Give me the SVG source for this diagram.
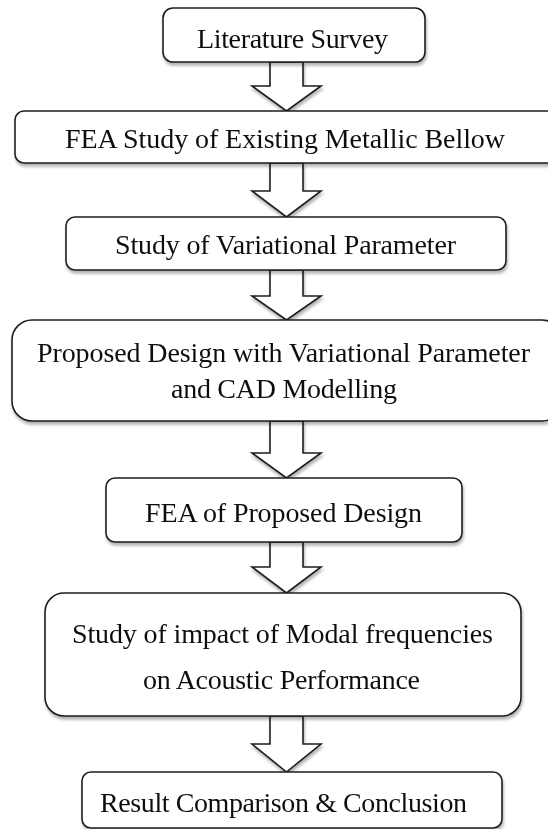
<svg xmlns="http://www.w3.org/2000/svg" width="548" height="829" viewBox="0 0 548 829">
  <defs>
    <filter id="sh" x="-10%" y="-20%" width="120%" height="150%">
      <feGaussianBlur in="SourceAlpha" stdDeviation="1.6" result="b"/>
      <feOffset in="b" dx="1" dy="3" result="o"/>
      <feComponentTransfer in="o" result="s"><feFuncA type="linear" slope="0.3"/></feComponentTransfer>
      <feMerge><feMergeNode in="s"/><feMergeNode in="SourceGraphic"/></feMerge>
    </filter>
  </defs>
  <style>
    .box { fill: #ffffff; stroke: #1e1e1e; stroke-width: 1.6; }
    .arr { fill: #ffffff; stroke: #1e1e1e; stroke-width: 1.6; stroke-linejoin: miter; }
    .t { font-family: "Liberation Serif", "Times New Roman", serif; font-size: 28px; fill: #111111; text-anchor: middle; }
  </style>
  <rect width="548" height="829" fill="#ffffff"/>

  <g id="connectors" filter="url(#sh)">
    <polygon class="arr" points="270,62 303,62 303,86 321,86 286.5,111 252,86 270,86"/>
    <polygon class="arr" points="270,163 303,163 303,191 321,191 286.5,217 252,191 270,191"/>
    <polygon class="arr" points="270,270 303,270 303,296 321,296 286.5,320 252,296 270,296"/>
    <polygon class="arr" points="270,421 303,421 303,453 321,453 286.5,478 252,453 270,453"/>
    <polygon class="arr" points="270,542 303,542 303,567 321,567 286.5,593 252,567 270,567"/>
    <polygon class="arr" points="270,716 303,716 303,744 321,744 286.5,772 252,744 270,744"/>
  </g>

  <g id="n1" filter="url(#sh)">
    <rect class="box" x="163" y="8" width="262" height="54" rx="10"/>
    <text class="t" x="292.5" y="48" textLength="191">Literature Survey</text>
  </g>
  <g id="n2" filter="url(#sh)">
    <rect class="box" x="15" y="111" width="545" height="52" rx="9"/>
    <text class="t" x="285" y="148" textLength="440">FEA Study of Existing Metallic Bellow</text>
  </g>
  <g id="n3" filter="url(#sh)">
    <rect class="box" x="66" y="217" width="440" height="53" rx="9"/>
    <text class="t" x="285.5" y="254" textLength="341">Study of Variational Parameter</text>
  </g>
  <g id="n4" filter="url(#sh)">
    <rect class="box" x="12" y="320" width="550" height="101" rx="20"/>
    <text class="t" x="283.5" y="362" textLength="493">Proposed Design with Variational Parameter</text>
    <text class="t" x="284" y="398" textLength="226">and CAD Modelling</text>
  </g>
  <g id="n5" filter="url(#sh)">
    <rect class="box" x="106" y="478" width="356" height="64" rx="9"/>
    <text class="t" x="283.5" y="522" textLength="277">FEA of Proposed Design</text>
  </g>
  <g id="n6" filter="url(#sh)">
    <rect class="box" x="45" y="593" width="476" height="123" rx="19"/>
    <text class="t" x="282.5" y="643" textLength="421">Study of impact of Modal frequencies</text>
    <text class="t" x="281.5" y="689" textLength="277">on Acoustic Performance</text>
  </g>
  <g id="n7" filter="url(#sh)">
    <rect class="box" x="82" y="772" width="420" height="56" rx="9"/>
    <text class="t" x="283.5" y="812" textLength="367">Result Comparison &amp; Conclusion</text>
  </g>
</svg>
